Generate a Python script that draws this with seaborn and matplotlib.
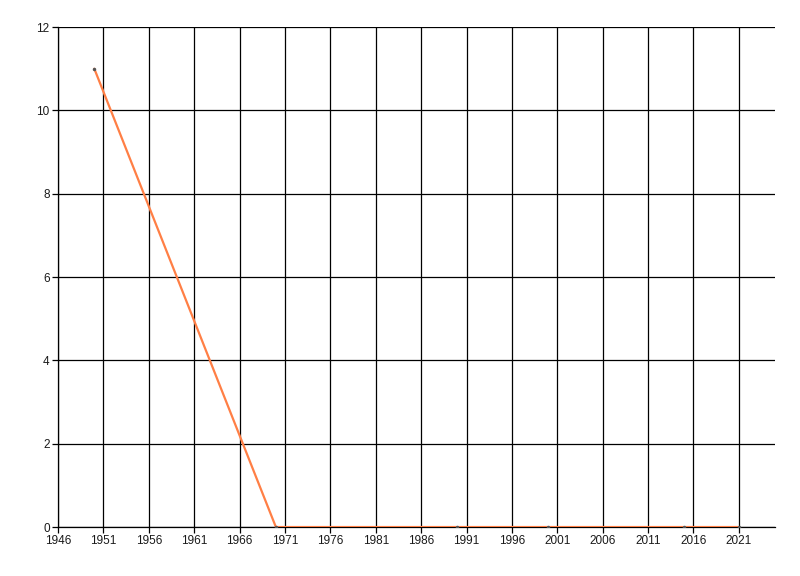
import pandas as pd
import matplotlib
matplotlib.use("Agg")
import matplotlib.pyplot as plt
import seaborn as sns

# data
years = [1950, 1970, 1990, 2000, 2015, 2021]
values = [11, 0, 0, 0, 0, 0]
x_ticks = list(range(1946, 2022, 5))
y_ticks = [0, 2, 4, 6, 8, 10, 12]

df = pd.DataFrame({"year": years, "value": values})

sns.set_style("white")
plt.rcParams["font.family"] = ["Liberation Sans", "DejaVu Sans"]

fig = plt.figure(figsize=(8, 5.76), dpi=100)
ax = fig.add_axes([0.0725, 0.085, 0.8965, 0.868])

sns.lineplot(data=df, x="year", y="value", ax=ax, color="#FF7F45", linewidth=1.6,
             marker="o", markersize=2.5, markerfacecolor="#555555", markeredgewidth=0,
             zorder=3)

ax.set_xlim(1946, 2025)
ax.set_ylim(0, 12)
ax.set_xticks(x_ticks)
ax.set_yticks(y_ticks)
ax.grid(True, color="black", linewidth=0.9)
ax.set_axisbelow(True)
ax.set_xlabel("")
ax.set_ylabel("")
for s in ["top", "right"]:
    ax.spines[s].set_visible(False)
for s in ["left", "bottom"]:
    ax.spines[s].set_color("black")
    ax.spines[s].set_linewidth(0.9)
ax.tick_params(axis="both", which="major", length=4, width=0.9, color="black",
               labelsize=8.5, labelcolor="#1a1a1a", pad=2, left=True, bottom=True)

fig.savefig("out.png", dpi=100)
